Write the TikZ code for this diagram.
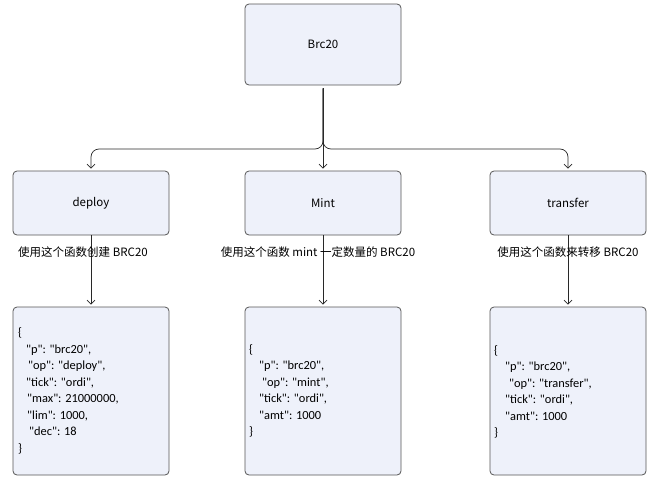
\documentclass[tikz,border=0pt]{standalone}
\usepackage{fontspec}
\setmainfont{Noto Sans CJK SC}
\newfontfamily\codefont{Carlito}
\usetikzlibrary{arrows.meta}
\definecolor{boxfill}{RGB}{238,241,250}
\definecolor{boxline}{RGB}{85,85,85}
\definecolor{linec}{RGB}{40,40,40}
\tikzset{
  box/.style={draw=boxline, fill=boxfill, line width=0.8pt, rounded corners=4pt,
    minimum width=156pt, inner sep=0pt, font=\fontsize{11.5}{14}\selectfont},
  lbl/.style={font=\fontsize{11.5}{14}\selectfont, inner sep=0pt},
  code/.style={align=left, inner sep=0pt, anchor=west, font=\codefont\fontsize{12.4}{16.5}\selectfont},
  arr/.style={draw=linec, line width=0.7pt, -{Straight Barb[length=4pt,width=8pt]}, shorten >=2pt}
}
\begin{document}
\begin{tikzpicture}[x=1pt,y=-1pt]
\useasboundingbox (0,0) rectangle (654,482);
% top
\node[box, minimum height=81pt] (top) at (323,44.5) {Brc20};
% middle
\node[box, minimum height=64pt] (deploy) at (91,203) {deploy};
\node[box, minimum height=64pt] (mint) at (323,203) {Mint};
\node[box, minimum height=64pt] (transfer) at (568,203) {transfer};
% bottom
\node[box, minimum height=168pt] (cdeploy) at (91,391) {};
\node[box, minimum height=168pt] (cmint) at (323,391) {};
\node[box, minimum height=168pt] (ctransfer) at (568,391) {};
% junction
\coordinate (j) at (323,149);
\draw[arr, rounded corners=8pt] ([yshift=-3pt]top.south) -- (j) -| (deploy.north);
\draw[arr, rounded corners=8pt] ([yshift=-3pt]top.south) -- (j) -| (transfer.north);
\draw[arr] ([yshift=-3pt]top.south) -- (mint.north);
% lower arrows
\draw[arr] (deploy.south) -- (cdeploy.north);
\draw[arr] (mint.south) -- (cmint.north);
\draw[arr] (transfer.south) -- (ctransfer.north);
% labels
\node[lbl] (ldeploy) at (83,252) {使用这个函数创建 BRC20};
\node[lbl] (lmint) at (318,252) {使用这个函数 mint 一定数量的 BRC20};
\node[lbl] (ltransfer) at (568,252) {使用这个函数来转移 BRC20};
% code
\node[code] (tdeploy) at (18,391) {\{\\
\hspace{8pt}"p": "brc20",\\
\hspace{10pt}"op": "deploy",\\
\hspace{8pt}"tick": "ordi",\\
\hspace{9pt}"max": 21000000,\\
\hspace{9pt}"lim": 1000,\\
\hspace{11pt}"dec": 18\\
\}};
\node[code] (tmint) at (249,391) {\{\\
\hspace{10pt}"p": "brc20",\\
\hspace{13pt}"op": "mint",\\
\hspace{10pt}"tick": "ordi",\\
\hspace{10pt}"amt": 1000\\
\}};
\node[code] (ttransfer) at (494,392) {\{\\
\hspace{11pt}"p": "brc20",\\
\hspace{15pt}"op": "transfer",\\
\hspace{11pt}"tick": "ordi",\\
\hspace{11pt}"amt": 1000\\
\}};
\end{tikzpicture}
\end{document}
